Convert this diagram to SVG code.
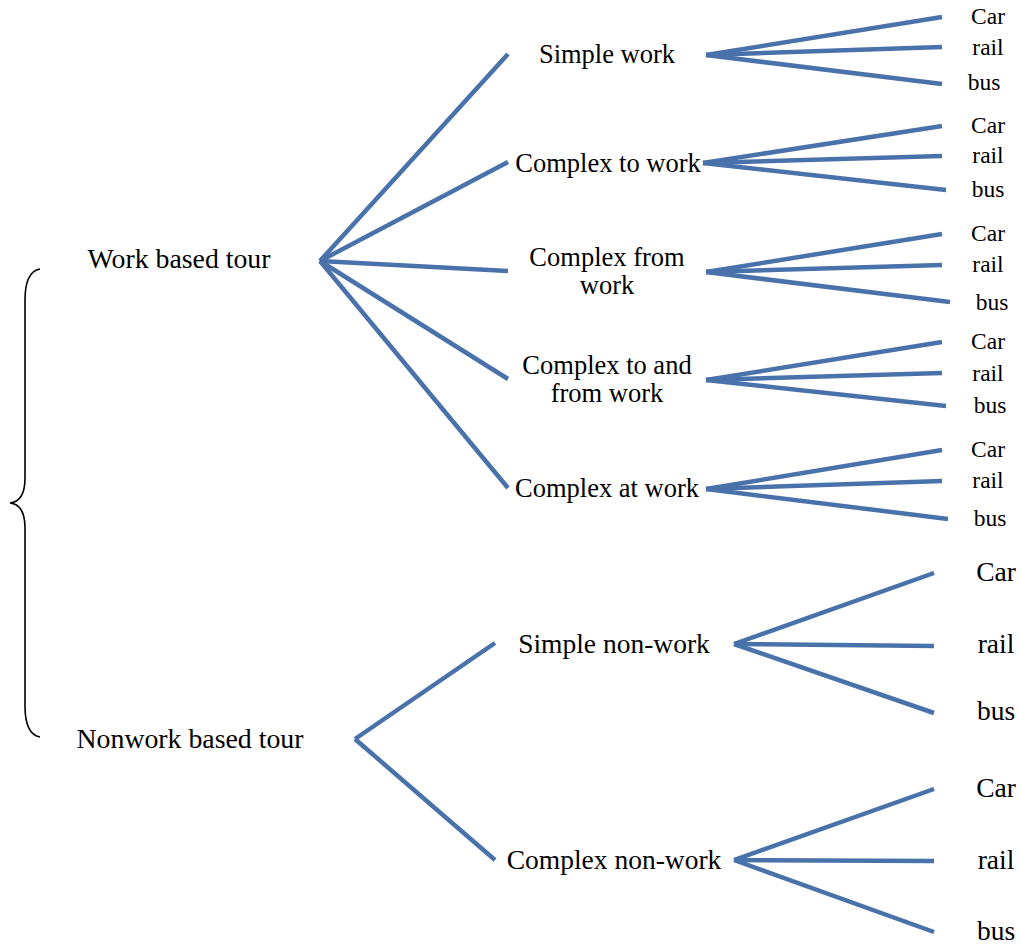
<svg xmlns="http://www.w3.org/2000/svg" width="1021" height="946" viewBox="0 0 1021 946">
<style>
.c line{stroke:#4a72aa;stroke-width:4.5;stroke-linecap:butt}
text{font-family:"Liberation Serif","Times New Roman",serif;fill:#000}
.t{font-size:27.8px;text-anchor:middle}
.m{font-size:26.5px;text-anchor:middle}
.n{font-size:27.5px;text-anchor:middle}
.s{font-size:23.5px;text-anchor:middle}
.l{font-size:27.5px;text-anchor:middle}
</style>
<rect width="1021" height="946" fill="#fff"/>
<g id="connectors" class="c">
<line x1="320" y1="261" x2="508" y2="54"/>
<line x1="320" y1="261" x2="508" y2="162"/>
<line x1="320" y1="261" x2="508" y2="271"/>
<line x1="320" y1="261" x2="508" y2="379"/>
<line x1="320" y1="261" x2="508" y2="488"/>
<line x1="355" y1="739" x2="495" y2="643"/>
<line x1="355" y1="739" x2="495" y2="860"/>
<line x1="706" y1="55" x2="942" y2="17"/>
<line x1="706" y1="55" x2="942" y2="47"/>
<line x1="706" y1="55" x2="942" y2="84"/>
<line x1="703" y1="163" x2="942" y2="126"/>
<line x1="703" y1="163" x2="942" y2="156"/>
<line x1="703" y1="163" x2="946" y2="190"/>
<line x1="706" y1="272" x2="942" y2="234"/>
<line x1="706" y1="272" x2="942" y2="265"/>
<line x1="706" y1="272" x2="950" y2="302"/>
<line x1="706" y1="380" x2="942" y2="342"/>
<line x1="706" y1="380" x2="942" y2="373"/>
<line x1="706" y1="380" x2="946" y2="406"/>
<line x1="706" y1="489" x2="942" y2="450"/>
<line x1="706" y1="489" x2="942" y2="481"/>
<line x1="706" y1="489" x2="948" y2="519"/>
<line x1="734" y1="644" x2="934" y2="573"/>
<line x1="734" y1="644" x2="934" y2="646"/>
<line x1="734" y1="644" x2="934" y2="713"/>
<line x1="734" y1="860" x2="934" y2="789"/>
<line x1="734" y1="860" x2="934" y2="861"/>
<line x1="734" y1="860" x2="934" y2="932"/>
</g>
<path id="brace" d="M40,269 C29,271 25,284 25,300 L25,478 C25,494 20,502 10,503 C20,504 25,512 25,528 L25,706 C25,722 29,735 40,737" fill="none" stroke="#000" stroke-width="1.6"/>
<g id="work-based-tour"><text class="t" x="179" y="268">Work based tour</text></g>
<g id="nonwork-based-tour"><text class="t" x="190" y="748">Nonwork based tour</text></g>
<g id="simple-work"><text class="m" x="607" y="63">Simple work</text></g>
<g id="complex-to-work"><text class="m" x="608" y="172">Complex to work</text></g>
<g id="complex-from-work"><text class="m" x="607" y="266">Complex from</text><text class="m" x="607" y="294">work</text></g>
<g id="complex-to-and-from-work"><text class="m" x="607" y="374">Complex to and</text><text class="m" x="607" y="402">from work</text></g>
<g id="complex-at-work"><text class="m" x="607" y="497">Complex at work</text></g>
<g id="simple-non-work"><text class="n" x="614" y="653">Simple non-work</text></g>
<g id="complex-non-work"><text class="n" x="614" y="869">Complex non-work</text></g>
<g id="modes-1"><text class="s" x="988" y="24">Car</text><text class="s" x="988" y="55">rail</text><text class="s" x="984" y="90">bus</text></g>
<g id="modes-2"><text class="s" x="988" y="133">Car</text><text class="s" x="988" y="163">rail</text><text class="s" x="988" y="197">bus</text></g>
<g id="modes-3"><text class="s" x="988" y="241">Car</text><text class="s" x="988" y="272">rail</text><text class="s" x="992" y="310">bus</text></g>
<g id="modes-4"><text class="s" x="988" y="349">Car</text><text class="s" x="988" y="381">rail</text><text class="s" x="990" y="413">bus</text></g>
<g id="modes-5"><text class="s" x="988" y="457">Car</text><text class="s" x="988" y="488">rail</text><text class="s" x="990" y="526">bus</text></g>
<g id="modes-6"><text class="l" x="996" y="581">Car</text><text class="l" x="996" y="653">rail</text><text class="l" x="996" y="720">bus</text></g>
<g id="modes-7"><text class="l" x="996" y="797">Car</text><text class="l" x="996" y="869">rail</text><text class="l" x="996" y="940">bus</text></g>
</svg>
